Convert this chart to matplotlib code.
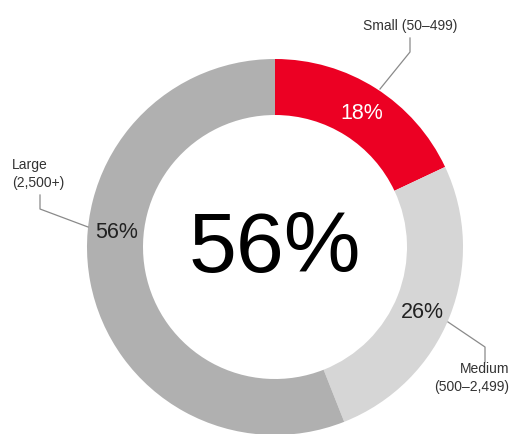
import matplotlib
matplotlib.use('Agg')
import matplotlib.pyplot as plt
import numpy as np

plt.rcParams['font.family'] = ['Liberation Sans', 'DejaVu Sans']

# company size split
segments = ["Small (50–499)", "Medium\n(500–2,499)", "Large\n(2,500+)"]
shares = [18, 26, 56]
colors = ["#ec0023", "#d6d6d6", "#b0b0b0"]
pct_colors = ["white", "#222222", "#222222"]
headline = "56%"

W, H = 510, 434
fig = plt.figure(figsize=(W / 100, H / 100), dpi=100)
ax = fig.add_axes([0, 0, 1, 1])

cx, cy = 275, H - 247
R, ring = 188, 56

wedges, _ = ax.pie(shares, colors=colors, startangle=90, counterclock=False,
                   center=(cx, cy), radius=R, frame=True,
                   wedgeprops=dict(width=ring, linewidth=0))
ax.set_xlim(0, W)
ax.set_ylim(0, H)
ax.set_aspect('equal')
ax.axis('off')

# percentage labels sit in the middle of the ring
mid_r = R - ring / 2
label_angles = [(w.theta1 + w.theta2) / 2 for w in wedges]
label_angles[1] = -23.5
label_angles[2] = 174  # pull the large label up towards its callout
for ang, val, c in zip(label_angles, shares, pct_colors):
    a = np.deg2rad(ang)
    ax.text(cx + mid_r * np.cos(a) + 1, cy + mid_r * np.sin(a) - 2, f"{val}%",
            ha='center', va='center', fontsize=15.5, color=c)

ax.text(cx, H - 250, headline, ha='center', va='center', fontsize=62, color='black')

# callouts: leader line points (pixel coords, y down) and label anchor
line_kw = dict(color='#8a8a8a', lw=0.9)
callouts = [
    ([(380, 89), (410, 52), (410, 38)], (410, 26), 'center'),
    ([(448, 322), (485, 347), (485, 362)], (509, 378), 'right'),
    ([(88, 227), (40, 209), (40, 195)], (12, 174), 'left'),
]
for (pts, (tx, ty), ha), name in zip(callouts, segments):
    xs = [p[0] for p in pts]
    ys = [H - p[1] for p in pts]
    ax.plot(xs, ys, **line_kw)
    ax.text(tx, H - ty, name, ha=ha, va='center', fontsize=10, color='#333333',
            linespacing=1.35, multialignment=ha)

fig.savefig('out.png', dpi=100)
